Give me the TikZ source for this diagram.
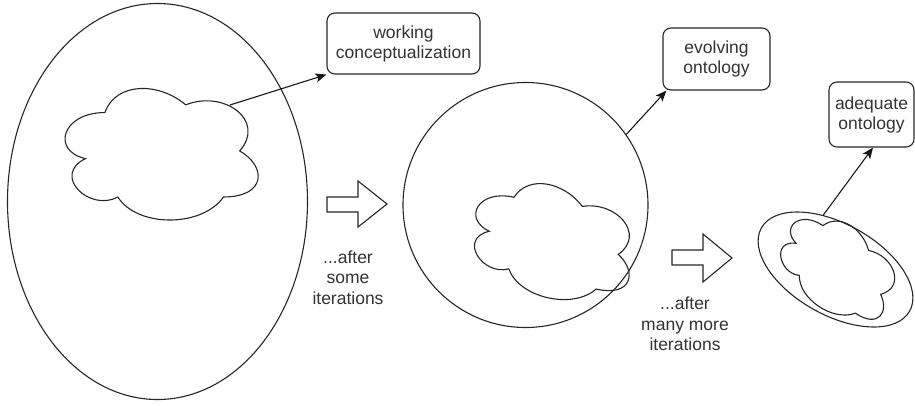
\documentclass[tikz,border=0pt]{standalone}
\usepackage{fontspec}
\setmainfont{Liberation Sans}
\usetikzlibrary{arrows.meta,shapes.geometric}
\newcommand{\drawcloudshape}[1]{%
  \draw[shapeline,#1] (0.25,0.25) .. controls (0.05,0.25) and (0,0.5) .. (0.16,0.55)
    .. controls (0,0.66) and (0.18,0.9) .. (0.31,0.8)
    .. controls (0.4,1) and (0.7,1) .. (0.8,0.8)
    .. controls (1,0.8) and (1,0.6) .. (0.875,0.5)
    .. controls (1,0.3) and (0.8,0.1) .. (0.625,0.2)
    .. controls (0.5,0.05) and (0.3,0.05) .. (0.25,0.25) -- cycle;}
\begin{document}
\begin{tikzpicture}[x=1pt,y=-1pt,
  shapeline/.style={draw=black!85, line width=1.1pt},
  outline/.style={shapeline, inner sep=0pt},
  labelbox/.style={shapeline, rounded corners=8pt, inner sep=2pt, align=center,
    text=black!80, font=\fontsize{17.5}{20}\selectfont},
  lbl/.style={align=center, text=black!80, inner sep=0pt, font=\fontsize{17.5}{20.5}\selectfont},
  conn/.style={draw=black!90, line width=1.1pt, -{Stealth[length=11pt,width=9pt,inset=2.5pt]}},
  blockarrow/.style={shapeline, line join=miter}]
\useasboundingbox (0,0) rectangle (915,405);

% big containers
\node[outline, ellipse, minimum width=300pt, minimum height=396pt] (e1) at (157.5,201.5) {};
\node[outline, circle, minimum size=245pt] (c2) at (525.5,205) {};
\node[outline, ellipse, minimum width=170pt, minimum height=91pt, rotate=-29.3] (e3) at (835.5,269.5) {};

% clouds
\drawcloudshape{shift={(161.5,154)}, xscale=215.6, yscale=153.5, shift={(-0.5125,-0.52)}}
\drawcloudshape{shift={(553,242)}, rotate=-13, xscale=183, yscale=129, shift={(-0.5125,-0.52)}}
\drawcloudshape{shift={(838,268)}, rotate=-34, xscale=138, yscale=99, shift={(-0.5125,-0.52)}}

% label boxes
\node[labelbox, minimum width=153pt, minimum height=61pt] (b1) at (403.5,43.5) {working\\conceptualization};
\node[labelbox, minimum width=107pt, minimum height=62pt] (b2) at (716.5,59) {evolving\\ontology};
\node[labelbox, minimum width=85pt, minimum height=65pt] (b3) at (871.5,114.5) {adequate\\ontology};

% connectors
\coordinate (c1out) at (230,105);
\draw[conn] (c1out) -- (b1.south west);
\draw[conn] (c2.35) -- ([xshift=4pt]b2.south west);
\draw[conn] (e3.132) -- ([xshift=1.5pt]b3.south);

% block arrows
\draw[blockarrow] (327,197) -- (358,197) -- (358,181) -- (387,204) -- (358,227) -- (358,212) -- (327,212) -- cycle;
\draw[blockarrow] (672,250) -- (703,250) -- (703,234) -- (732,258) -- (703,282) -- (703,265) -- (672,265) -- cycle;

% texts
\node[lbl] (t1) at (348,277.5) {...after\\some\\iterations};
\node[lbl] (t2) at (685,324) {...after\\many more\\iterations};
\end{tikzpicture}
\end{document}
